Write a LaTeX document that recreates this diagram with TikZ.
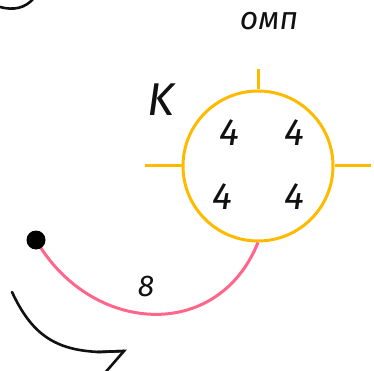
\documentclass[tikz,border=0pt]{standalone}
\usepackage{fontspec}
\setmainfont{Fira Sans}
\usepackage{tikz}
\usetikzlibrary{positioning,calc}
\definecolor{RingGold}{HTML}{FFBA00}
\definecolor{PathPink}{HTML}{FF6689}
\definecolor{InkDark}{HTML}{111111}

\begin{document}
\begin{tikzpicture}[x=1pt,y=-1pt,
          every node/.style={font=\itshape,text=InkDark,inner sep=0pt},
          ring/.style={draw=RingGold,line width=3pt},
          tick/.style={RingGold,line width=3pt},
          link/.style={PathPink,line width=3pt},
          ink/.style={InkDark,line width=2.6pt,line cap=round}]
        \useasboundingbox (0,0) rectangle (374,371);
        % ring with its four marks
        \node[ring,circle,minimum size=150pt] (ring) at (258,166) {};
        \coordinate (tn) at (258,69);
        \coordinate (tw) at (145,166);
        \coordinate (te) at (371,166);
        \draw[tick] (ring.north)--(tn);
        \draw[tick] (ring.west)--(tw);
        \draw[tick] (ring.east)--(te);
        \node[font=\itshape\fontsize{38}{38}\selectfont] (n1) at (229,133) {4};
        \node[font=\itshape\fontsize{38}{38}\selectfont] (n2) at (294,133) {4};
        \node[font=\itshape\fontsize{38}{38}\selectfont] (n3) at (222,197) {4};
        \node[font=\itshape\fontsize{38}{38}\selectfont] (n4) at (294,197) {4};
        \node[font=\itshape\fontsize{32}{32}\selectfont] (omp) at (269,21) {омп};
        \node[font=\itshape\fontsize{46}{46}\selectfont] (k) at (161,100) {K};
        % pink link to the dot
        \coordinate (dotc) at (36,240);
        \draw[link] (dotc) to[out=-60,in=-112,looseness=1.25] (ring.south);
        \node[circle,fill=black,minimum size=19pt] (dot) at (dotc) {};
        \node[font=\itshape\fontsize{30}{30}\selectfont] (eight) at (146,286) {8};
        % black turning arrow
        \coordinate (as) at (12,292);
        \coordinate (ah) at (124,351);
        \coordinate (ab) at (97,352);
        \coordinate (al) at (104,374);
        \draw[ink] (as) to[out=-65,in=178,looseness=1.1] ($(ah)+(-24,1)$) -- (ah);
        \draw[ink] (ab)--(ah)--(al);
        % edge of a shape cut by the frame
        \coordinate (cl) at (0,7);
        \coordinate (cr) at (34,-2);
        \draw[ink] (cl) to[out=-15,in=-130] (cr);
      \end{tikzpicture}
\end{document}
